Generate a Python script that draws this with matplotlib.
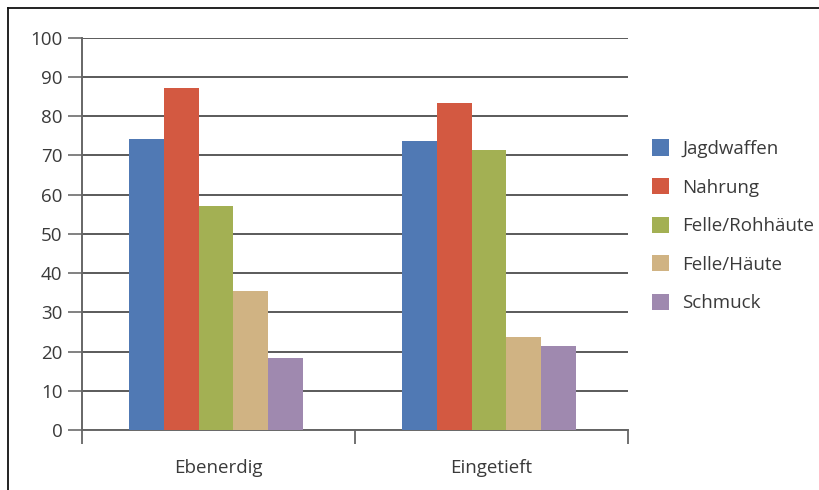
import numpy as np
import matplotlib.pyplot as plt
from matplotlib.lines import Line2D

plt.rcParams['font.family'] = ['Open Sans', 'DejaVu Sans']

# Data
categories = ['Ebenerdig', 'Eingetieft']
series = ['Jagdwaffen', 'Nahrung', 'Felle/Rohhäute', 'Felle/Häute', 'Schmuck']
values = {
    'Jagdwaffen': [74.2, 73.7],
    'Nahrung': [87.2, 83.3],
    'Felle/Rohhäute': [57.1, 71.3],
    'Felle/Häute': [35.5, 23.6],
    'Schmuck': [18.3, 21.4],
}
colors = ['#5079B4', '#D35941', '#A3B053', '#D0B383', '#9F89AF']
yticks = list(range(0, 101, 10))

txt = '#3a3a3a'
fig = plt.figure(figsize=(8.19, 4.90), dpi=100)
ax = fig.add_axes([82 / 819, 1 - 430 / 490, (628 - 82) / 819, (430 - 37.7) / 490])

x = np.arange(len(categories))
w = 0.1275
for i, name in enumerate(series):
    ax.bar(x + (i - 2) * w - 0.009, values[name], w, color=colors[i], label=name,
           zorder=3, linewidth=0)

ax.set_ylim(0, 100)
ax.set_xlim(-0.5, 1.5)
ax.set_yticks(yticks)
ax.set_yticklabels([str(t) for t in yticks], fontsize=13.5, color=txt)
ax.yaxis.grid(True, color='#5a5a5a', linewidth=1.4, zorder=1)
ax.tick_params(axis='y', length=10, width=1.3, color='#777777', pad=4)

# category boundaries as ticks, labels in the middle
ax.set_xticks([-0.5, 0.5, 1.5])
ax.set_xticklabels([])
ax.set_xticks(x, minor=True)
ax.set_xticklabels(categories, minor=True, fontsize=13.5, color=txt)
ax.tick_params(axis='x', which='major', length=10, width=1.3, color='#666666')
ax.tick_params(axis='x', which='minor', length=0, pad=21)

for s in ['top', 'right']:
    ax.spines[s].set_visible(False)
for s in ['left', 'bottom']:
    ax.spines[s].set_color('#666666')
    ax.spines[s].set_linewidth(1.4)

leg = ax.legend(loc='upper left', bbox_to_anchor=(644 / 819, 1 - 132 / 490),
                bbox_transform=fig.transFigure, frameon=False, fontsize=13.5,
                handlelength=0.95, handleheight=0.95, handletextpad=0.7,
                labelspacing=1.07, borderaxespad=0)
for t in leg.get_texts():
    t.set_color(txt)

# frame lines at top and left of the figure
fig.add_artist(Line2D([8 / 819, 1], [1 - 8 / 490, 1 - 8 / 490], color='#111111',
                      linewidth=1.3, transform=fig.transFigure))
fig.add_artist(Line2D([8 / 819, 8 / 819], [0, 1 - 8 / 490], color='#111111',
                      linewidth=1.3, transform=fig.transFigure))

fig.savefig('out.png', dpi=100)
